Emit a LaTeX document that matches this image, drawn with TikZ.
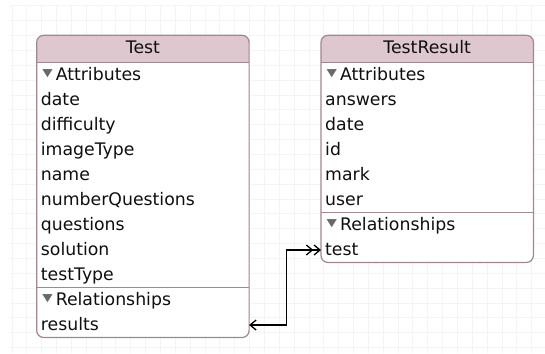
\documentclass[tikz,border=0pt]{standalone}
\usepackage{fontspec}
\setmainfont{DejaVu Sans}
\usetikzlibrary{positioning,arrows.meta,backgrounds}
\definecolor{headpink}{RGB}{223,199,208}
\definecolor{framegray}{RGB}{158,136,145}
\definecolor{gridgray}{RGB}{244,244,244}
\definecolor{trigray}{RGB}{105,105,105}
\definecolor{inkdark}{RGB}{15,15,15}
\newcommand\tri{\hspace{1.5pt}\textcolor{trigray}{\fontsize{13.5}{13}\selectfont\raisebox{3.5pt}{\scalebox{1}[0.8]{▼}}}\hspace{3pt}}
\tikzset{
    >={Straight Barb[length=6pt,width=10pt]},
    entityhead/.style={
        rectangle,
        minimum width=212pt,
        minimum height=26.8pt,
        inner sep=0pt,
        text height=13pt, text depth=3pt,
        font=\fontsize{17.3}{18}\selectfont,
        text=inkdark
    },
    field/.style={
        rectangle,
        text width=204pt,
        inner xsep=4pt, inner ysep=0pt,
        minimum height=24.6pt,
        align=left,
        text height=13pt, text depth=3pt,
        font=\fontsize{17.3}{18}\selectfont,
        text=inkdark
    },
    frame/.style={draw=framegray, line width=1.2pt, rounded corners=7pt},
    sep/.style={draw=framegray, line width=1pt},
    gridline/.style={draw=gridgray, line width=1pt},
    relation/.style={draw, line width=1.3pt}
}
\begin{document}
\begin{tikzpicture}[x=1pt,y=-1pt]
\useasboundingbox (0,0) rectangle (545,353);

% entity Test
\node[entityhead, anchor=north west] (test) at (36.7,35.3) {Test};
\node[field, below=0pt of test] (test-attr) {\tri Attributes};
\node[field, below=0pt of test-attr] (test-date) {date};
\node[field, below=0pt of test-date] (test-difficulty) {difficulty};
\node[field, below=0pt of test-difficulty] (test-imagetype) {imageType};
\node[field, below=0pt of test-imagetype] (test-name) {name};
\node[field, below=0pt of test-name] (test-numq) {numberQuestions};
\node[field, below=0pt of test-numq] (test-questions) {questions};
\node[field, below=0pt of test-questions] (test-solution) {solution};
\node[field, below=0pt of test-solution] (test-type) {testType};
\node[field, below=0pt of test-type] (test-rel) {\tri Relationships};
\node[field, below=0pt of test-rel] (test-results) {results};

% entity TestResult
\node[entityhead, anchor=north west] (tr) at (321,35.3) {TestResult};
\node[field, below=0pt of tr] (tr-attr) {\tri Attributes};
\node[field, below=0pt of tr-attr] (tr-answers) {answers};
\node[field, below=0pt of tr-answers] (tr-date) {date};
\node[field, below=0pt of tr-date] (tr-id) {id};
\node[field, below=0pt of tr-id] (tr-mark) {mark};
\node[field, below=0pt of tr-mark] (tr-user) {user};
\node[field, below=0pt of tr-user] (tr-rel) {\tri Relationships};
\node[field, below=0pt of tr-rel] (tr-test) {test};

\begin{scope}[on background layer]
    \fill[white] (0,0) rectangle (545,353);
    \foreach \x in {12,26.85,...,545}
        \draw[gridline] (\x,5) -- (\x,353);
    \foreach \y in {6,20.85,...,353}
        \draw[gridline] (10,\y) -- (545,\y);
    \fill[white, rounded corners=7pt] (test.north west) rectangle (test-results.south east);
    \fill[white, rounded corners=7pt] (tr.north west) rectangle (tr-test.south east);
    \begin{scope}
        \clip[rounded corners=7pt] (test.north west) rectangle (test-results.south east);
        \fill[headpink] (test.north west) rectangle (test.south east);
    \end{scope}
    \begin{scope}
        \clip[rounded corners=7pt] (tr.north west) rectangle (tr-test.south east);
        \fill[headpink] (tr.north west) rectangle (tr.south east);
    \end{scope}
\end{scope}

\draw[sep] (test.south west) -- (test.south east);
\draw[sep] (test-type.south west) -- (test-type.south east);
\draw[frame] (test.north west) rectangle (test-results.south east);

\draw[sep] (tr.south west) -- (tr.south east);
\draw[sep] (tr-user.south west) -- (tr-user.south east);
\draw[frame] (tr.north west) rectangle (tr-test.south east);

% relationship results <-->> test
\draw[relation, <->>] (test-results.east) -- ++(37.7,0) |- (tr-test.west);
\end{tikzpicture}
\end{document}
